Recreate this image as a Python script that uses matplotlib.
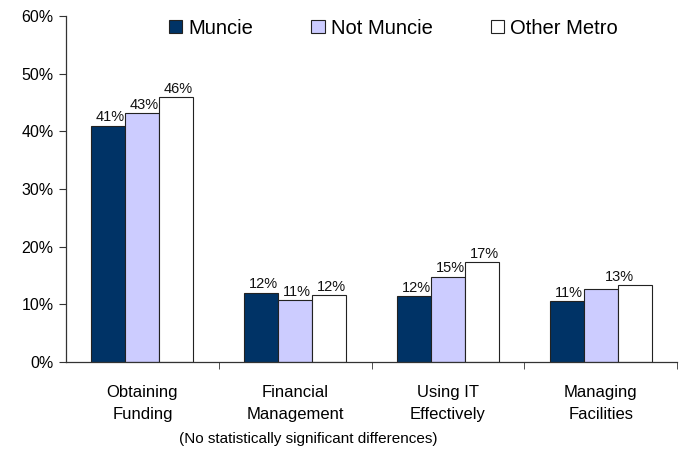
import matplotlib
matplotlib.use("Agg")
import matplotlib.pyplot as plt
import numpy as np

plt.rcParams['font.family'] = ['Liberation Sans', 'DejaVu Sans']

categories = ["Obtaining\nFunding", "Financial\nManagement", "Using IT\nEffectively", "Managing\nFacilities"]
series_names = ["Muncie", "Not Muncie", "Other Metro"]
muncie = [41.0, 12.0, 11.4, 10.5]
not_muncie = [43.2, 10.7, 14.8, 12.7]
other_metro = [45.9, 11.5, 17.3, 13.3]
muncie_labels = ["41%", "12%", "12%", "11%"]
not_muncie_labels = ["43%", "11%", "15%", ""]
other_metro_labels = ["46%", "12%", "17%", "13%"]
yticks = [0, 10, 20, 30, 40, 50, 60]
ytick_labels = ["0%", "10%", "20%", "30%", "40%", "50%", "60%"]
footnote = "(No statistically significant differences)"

colors = ["#003366", "#CCCCFF", "#FFFFFF"]

fig = plt.figure(figsize=(6.83, 4.49), dpi=100)
ax = fig.add_axes([66/683, 1 - 361.7/449, (677-66)/683, (361.7-16.3)/449])

x = np.arange(len(categories))
w = 0.2226
all_vals = [muncie, not_muncie, other_metro]
all_labels = [muncie_labels, not_muncie_labels, other_metro_labels]
for i, (vals, name, col) in enumerate(zip(all_vals, series_names, colors)):
    ax.bar(x + (i - 1) * w, vals, w, color=col, edgecolor="#222222", linewidth=0.8, label=name, zorder=2)

for i, (vals, labs) in enumerate(zip(all_vals, all_labels)):
    for j, (v, lab) in enumerate(zip(vals, labs)):
        if not lab:
            continue
        xpos = x[j] + (i - 1) * w
        ypos = v
        if i == 2 and not all_labels[1][j]:
            xpos = x[j] + 0.5 * w
            ypos = max(v, all_vals[1][j])
        ax.annotate(lab, (xpos, ypos), xytext=(1.5, 1), textcoords="offset points",
                    ha="center", va="bottom", fontsize=10.5, color="#111111")

ax.set_xlim(-0.5, len(categories) - 0.5)
ax.set_ylim(0, 60)
ax.set_yticks(yticks)
ax.set_yticklabels(ytick_labels, fontsize=11.5)
ax.set_xticks(x)
ax.set_xticklabels(categories, fontsize=12, linespacing=1.55)
ax.tick_params(axis="x", length=0, pad=17)
ax.set_xticks(np.arange(len(categories)) + 0.5, minor=True)
ax.tick_params(axis="x", which="minor", length=5, direction="out", color="#333333")
ax.tick_params(axis="y", length=5, direction="out", color="#333333", pad=4)
for s in ["top", "right"]:
    ax.spines[s].set_visible(False)
for s in ["left", "bottom"]:
    ax.spines[s].set_color("#333333")
    ax.spines[s].set_linewidth(0.9)

leg = ax.legend(loc="center left", bbox_to_anchor=((169-66)/611, (361.7-28)/345.4), ncol=3,
                frameon=False, fontsize=14.5, handlelength=0.65, handleheight=0.65,
                handletextpad=0.3, columnspacing=2.9, borderpad=0, borderaxespad=0)

fig.text(308/683, 1 - 438.5/449, footnote, ha="center", va="center", fontsize=11)

fig.savefig("out.png", dpi=100)
